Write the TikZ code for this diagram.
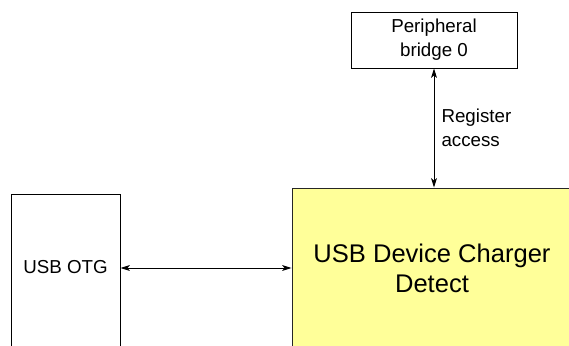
\documentclass[tikz,border=0pt]{standalone}
\usepackage{fontspec}
\setmainfont{Liberation Sans}
\usepackage{xcolor}
\definecolor{Ink}{HTML}{000000}
\definecolor{Pale}{HTML}{FFFF99}
\usetikzlibrary{arrows.meta, positioning}

\begin{document}
\begin{tikzpicture}[x=0.03cm, y=-0.03cm, >={Stealth[length=8pt, width=5pt, inset=2pt]},
  blk/.style={rectangle, draw=Ink, line width=0.8pt, fill=white, align=center,
              font=\fontsize{16}{20.4}\selectfont},
  core/.style={rectangle, draw=Ink!85, line width=0.8pt, fill=Pale, align=center,
               minimum width=8.4cm, minimum height=4.8cm,
               font=\fontsize{21.8}{25.5}\selectfont},
  biarr/.style={<->, line width=0.8pt, color=Ink},
  lbl/.style={font=\fontsize{16}{20.4}\selectfont, align=left, inner sep=1pt}
]

%% ---- Page frame (box edges run off the page) ----
\useasboundingbox (0,0) rectangle (569,346);
\clip (0,0) rectangle (569,346);

%% ---- Blocks ----
\node[blk, minimum width=4.98cm, minimum height=1.68cm] (bridge) at (434, 40) {Peripheral\\bridge 0};
\node[core] (detect) at (432, 268) {USB Device Charger\\Detect};
% text sits a bit above the middle of the tall box
\node[blk, minimum width=3.27cm, minimum height=4.68cm,
      text height=11.5pt, text depth=8.5pt] (otg) at (65.5, 272) {USB OTG};

%% ---- Connections ----
\draw[biarr] (bridge.south) -- node[lbl, right, xshift=5pt]{Register\\access} (bridge.south |- detect.north);
\draw[biarr] (detect.west -| otg.east) -- (detect.west);

\end{tikzpicture}
\end{document}
